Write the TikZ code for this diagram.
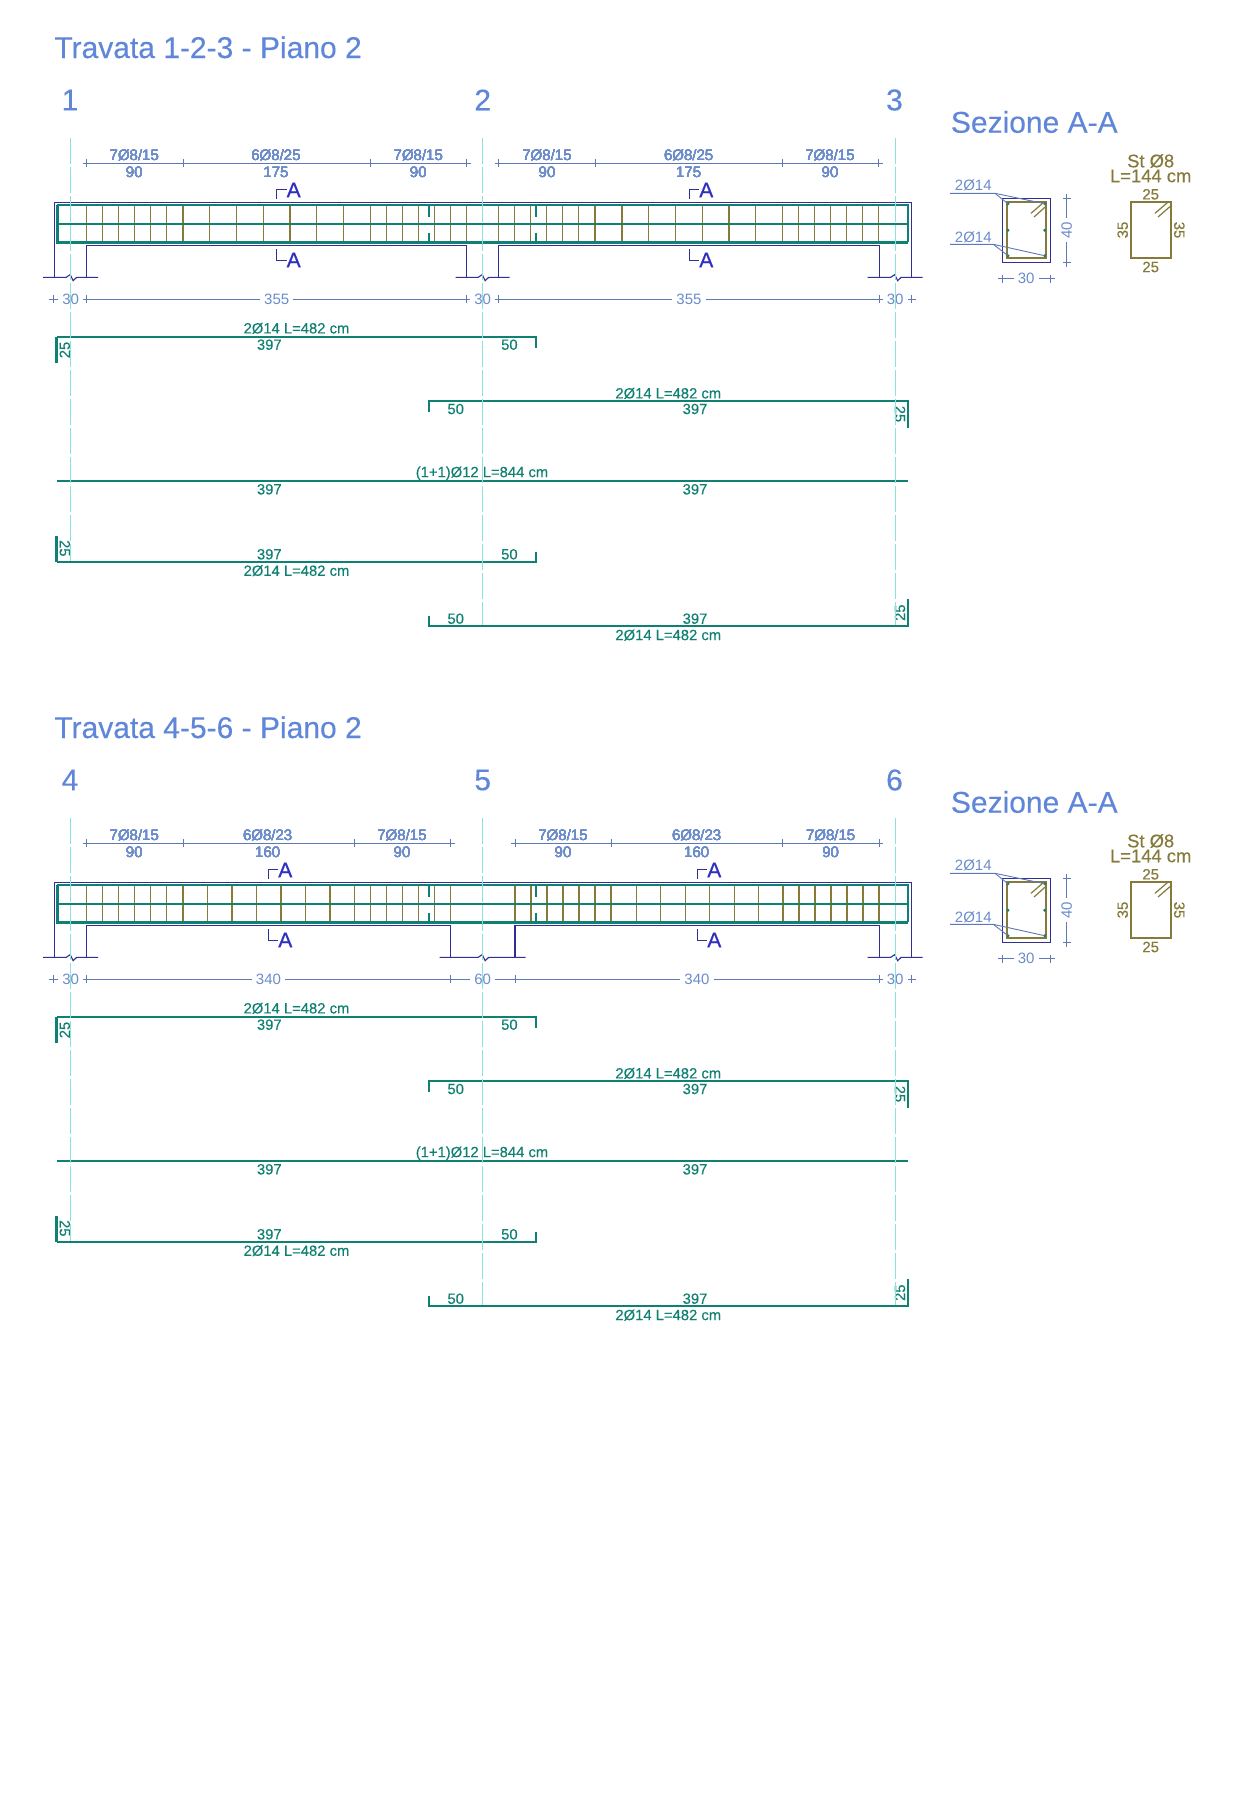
\documentclass[tikz,border=0pt]{standalone}
\usepackage{fontspec}
\setmainfont{Liberation Sans}
\newfontfamily\heavyfont[FakeBold=0.3]{Liberation Sans}
\newfontfamily\markfont[FakeBold=0.8]{Liberation Sans}
\usetikzlibrary{calc}
\definecolor{titleblue}{HTML}{5F86D8}
\definecolor{dimblue}{HTML}{6C8CCB}
\definecolor{linkblue}{HTML}{5E78B8}
\definecolor{concblue}{HTML}{2F2F96}
\definecolor{markblue}{HTML}{3030C0}
\definecolor{axiscyan}{HTML}{88E4DA}
\definecolor{bargreen}{HTML}{0F8072}
\definecolor{stirolive}{HTML}{857A3A}
\tikzset{
  concrete/.style={draw=concblue, line width=0.55pt},
  rebar/.style={draw=bargreen, line width=0.95pt},
  stirrup/.style={draw=stirolive, line width=0.6pt},
  dimline/.style={draw=linkblue, line width=0.45pt},
  axisline/.style={draw=axiscyan, line width=0.45pt, dash pattern=on 13pt off 1.5pt},
  titletxt/.style={font=\heavyfont\fontsize{15}{16}\selectfont, text=titleblue, inner sep=0pt},
  dimtxt/.style={font=\fontsize{7.5}{8}\selectfont, text=dimblue, inner sep=0pt},
  gaptxt/.style={dimtxt, fill=white, inner xsep=2pt, inner ysep=1pt},
  bartxt/.style={font=\heavyfont\fontsize{7.4}{8}\selectfont, text=bargreen, inner sep=0pt},
  stirtxt/.style={font=\heavyfont\fontsize{7.5}{8}\selectfont, text=stirolive, inner sep=0pt},
  marktxt/.style={font=\markfont\fontsize{10.5}{11}\selectfont, text=markblue, inner sep=0pt}
}
% tick of a dimension line
\newcommand{\htick}[2]{\draw[dimline] (#1,#2-4) -- (#1,#2+4);}
\newcommand{\vtick}[2]{\draw[dimline] (#1-4,#2) -- (#1+4,#2);}
% wall line with its break mark
\newcommand{\breakline}[2]{
  \draw[concrete] (#1-#2,277.3) -- (#1-4.5,277.3) -- (#1-0.5,274.6) -- (#1+2.5,280.7) -- (#1+6,277.3) -- (#1+#2,277.3);
}
% n+1 stirrups
\newcommand{\stirrupset}[3]{
  \foreach \sk in {0,...,#3}
    \draw[stirrup] ({#1+#2*\sk},205.3) -- ({#1+#2*\sk},242.3);
}
% beam outline and its bars
\newcommand{\beamfront}[2]{
  \draw[concrete] (54.3,277.3) -- (54.3,202.3) -- (911.7,202.3) -- (911.7,277.3);
  \draw[concrete] (86.7,277.3) -- (86.7,245.7) -- (#1,245.7) -- (#1,277.3);
  \draw[concrete] (#2,277.3) -- (#2,245.7) -- (879.3,245.7) -- (879.3,277.3);
  \breakline{70.7}{27.5}
  \breakline{895.2}{27.5}
  \draw[rebar, line width=1.15pt] (57.3,205.3) -- (908.3,205.3) -- (908.3,242.3);
  \draw[rebar, line width=1pt] (57.3,223.7) -- (908.3,223.7);
  \draw[rebar, line width=1.6pt] (57.3,205.3) -- (57.3,242.3) -- (908.3,242.3);
  \foreach \tx in {429,535.8} {
    \draw[rebar] (\tx,206) -- (\tx,216.7);
    \draw[rebar] (\tx,232.7) -- (\tx,242);
  }
}
% section marks
\newcommand{\cutmark}[2]{
  \draw[concrete, line width=0.5pt] (#1,199.3) -- (#1,189.3) -- (#1+10,189.3);
  \draw[concrete, line width=0.5pt] (#1,249.3) -- (#1,260) -- (#1+10,260);
  \node[marktxt] (#2t) at (#1+17,190) {A};
  \node[marktxt] (#2b) at (#1+17,260) {A};
}
% the five bars under each beam
\newcommand{\barschedule}{
  \draw[rebar, line width=1.5pt] (56.9,336.7) -- (56.9,363.3);
  \draw[rebar] (56.9,336.7) -- (535.9,336.7) -- (535.9,347.7);
  \node[bartxt] (b1n) at (296.5,328.3) {2Ø14 L=482 cm};
  \node[bartxt] (b1a) at (269.3,344.7) {397};
  \node[bartxt] (b1b) at (509.4,344.7) {50};
  \node[bartxt, rotate=90] (b1c) at (64.8,350) {25};
  \draw[rebar] (428.8,411.7) -- (428.8,400.7) -- (908.3,400.7) -- (908.3,427.7);
  \node[bartxt] (b2n) at (668.3,393.3) {2Ø14 L=482 cm};
  \node[bartxt] (b2a) at (695,409) {397};
  \node[bartxt] (b2b) at (455.7,409) {50};
  \node[bartxt, rotate=-90] (b2c) at (900,414) {25};
  \draw[rebar] (57.2,481) -- (907.7,481);
  \node[bartxt] (b3n) at (482,473.3) {(1+1)Ø12 L=844 cm};
  \node[bartxt] (b3a) at (269.3,489.3) {397};
  \node[bartxt] (b3b) at (695,489.3) {397};
  \draw[rebar, line width=1.5pt] (56.9,535.7) -- (56.9,561.7);
  \draw[rebar] (56.9,561.7) -- (535.9,561.7) -- (535.9,551.7);
  \node[bartxt] (b4n) at (296.5,570.7) {2Ø14 L=482 cm};
  \node[bartxt] (b4a) at (269.3,554.3) {397};
  \node[bartxt] (b4b) at (509.4,554.3) {50};
  \node[bartxt, rotate=-90] (b4c) at (64.8,548.3) {25};
  \draw[rebar] (428.8,615.7) -- (428.8,626) -- (908.3,626) -- (908.3,599.3);
  \node[bartxt] (b5n) at (668.3,635) {2Ø14 L=482 cm};
  \node[bartxt] (b5a) at (695,618.7) {397};
  \node[bartxt] (b5b) at (455.7,618.7) {50};
  \node[bartxt, rotate=90] (b5c) at (900,612.7) {25};
}
% section A-A and its stirrup
\newcommand{\sectionpanel}{
  \node[titletxt, anchor=base west] (sectitle) at (950.5,132.7) {Sezione A-A};
  \draw[concrete] (1002.7,198.3) rectangle (1050.7,262.3);
  \draw[stirrup, line width=0.9pt] (1006.7,201.7) rectangle (1046.3,258.3);
  \draw[stirrup, line width=0.6pt] (1031,213.3) -- (1043.3,202.7);
  \draw[stirrup, line width=0.6pt] (1034,217) -- (1046.3,206);
  \foreach \ry in {203.7,230.3,255.7}
    \foreach \rx in {1008,1044.7}
      \fill[bargreen] (\rx,\ry) circle (1.6);
  \draw[dimline] (950,193.3) -- (995,193.3) -- (1008,203.7);
  \draw[dimline] (995,193.3) -- (1044.7,203.7);
  \draw[dimline] (950,244.3) -- (993.3,244.3) -- (1008,255.7);
  \draw[dimline] (993.3,244.3) -- (1044.7,255.7);
  \node[dimtxt] (top14) at (973.3,185) {2Ø14};
  \node[dimtxt] (low14) at (973.3,237.7) {2Ø14};
  \draw[dimline] (1066.7,193.5) -- (1066.7,267);
  \vtick{1066.7}{198.3}
  \vtick{1066.7}{262.3}
  \node[gaptxt, rotate=90] (sec40) at (1066.7,230) {40};
  \draw[dimline] (998.3,278.7) -- (1055,278.7);
  \htick{1002.7}{278.7}
  \htick{1050.7}{278.7}
  \node[gaptxt] (sec30) at (1026.2,278.7) {30};
  \node[stirtxt, font=\heavyfont\fontsize{9.2}{10}\selectfont] (stname) at (1150.7,161) {St Ø8};
  \node[stirtxt, font=\heavyfont\fontsize{9.2}{10}\selectfont] (stlen) at (1150.7,176) {L=144 cm};
  \draw[stirrup, line width=0.9pt] (1130.7,201.7) rectangle (1171,258);
  \draw[stirrup, line width=0.6pt] (1155,213.3) -- (1167.3,202.7);
  \draw[stirrup, line width=0.6pt] (1158,217) -- (1170.7,206);
  \node[stirtxt] (sttop) at (1150.7,194.3) {25};
  \node[stirtxt] (stlow) at (1150.7,267) {25};
  \node[stirtxt, rotate=90] (stleft) at (1122.7,230) {35};
  \node[stirtxt, rotate=-90] (stright) at (1179.3,230) {35};
}
% the three column axes
\newcommand{\columnaxes}[3]{
  \draw[axisline] (70.7,138) -- (70.7,561);
  \draw[axisline] (482.7,138) -- (482.7,625);
  \draw[axisline] (895.2,138) -- (895.2,625);
  \node[titletxt] (ax1) at (70,100) {#1};
  \node[titletxt] (ax2) at (482.7,100) {#2};
  \node[titletxt] (ax3) at (894.5,100) {#3};
}

\begin{document}
\begin{tikzpicture}[x=0.5pt,y=-0.5pt]
\useasboundingbox (0,0) rectangle (1241,1800);

% Travata 1-2-3
\begin{scope}[name prefix=p-]
\node[titletxt, anchor=base west] (title) at (54,58) {Travata 1-2-3 - Piano 2};
\stirrupset{86.7}{16}{6}
\stirrupset{183}{26.75}{7}
\stirrupset{370.3}{16}{6}
\stirrupset{498.7}{16}{6}
\stirrupset{595.2}{26.75}{7}
\stirrupset{782.6}{16}{6}
\beamfront{466.7}{498.7}
\breakline{482.7}{27}
\cutmark{276.7}{ma}
\cutmark{689.3}{mb}
\draw[dimline] (82.7,163.3) -- (471,163.3);
\draw[dimline] (494.5,163.3) -- (883,163.3);
\foreach \tx in {86.7,183,370.3,466.7,498.7,595.2,782.6,878.5}
  \htick{\tx}{163.3}
\foreach \lx/\la/\lb [count=\n] in {134.3/7Ø8\slash15/90,276/6Ø8\slash25/175,418.3/7Ø8\slash15/90,547/7Ø8\slash15/90,688.6/6Ø8\slash25/175,830/7Ø8\slash15/90} {
  \node[dimtxt] (st\n) at (\lx,155) {\la};
  \node[dimtxt] (len\n) at (\lx,172.3) {\lb};
}
\draw[dimline] (49,299.3) -- (916,299.3);
\foreach \tx in {53.3,86.7,466.7,498.7,879.3,911.7}
  \htick{\tx}{299.3}
\foreach \lx/\la [count=\n] in {70.7/30,276.7/355,482.7/30,689/355,895.2/30}
  \node[gaptxt] (sp\n) at (\lx,299.3) {\la};
\barschedule
\sectionpanel
\columnaxes{1}{2}{3}
\end{scope}

% Travata 4-5-6
\begin{scope}[name prefix=q-, shift={(0,680)}]
\node[titletxt, anchor=base west] (title) at (54,58) {Travata 4-5-6 - Piano 2};
\stirrupset{86.7}{16}{6}
\stirrupset{183}{24.5}{7}
\stirrupset{354.3}{16}{6}
\stirrupset{515}{16}{6}
\stirrupset{611.7}{24.5}{7}
\stirrupset{782.9}{16}{6}
\beamfront{450.7}{515}
\breakline{482.7}{43}
\cutmark{268.3}{ma}
\cutmark{697.3}{mb}
\draw[dimline] (82.7,163.3) -- (455,163.3);
\draw[dimline] (510.5,163.3) -- (883,163.3);
\foreach \tx in {86.7,183,354.3,450.7,515,611.7,782.7,879}
  \htick{\tx}{163.3}
\foreach \lx/\la/\lb [count=\n] in {134.3/7Ø8\slash15/90,267.7/6Ø8\slash23/160,402/7Ø8\slash15/90,563/7Ø8\slash15/90,696.7/6Ø8\slash23/160,830.7/7Ø8\slash15/90} {
  \node[dimtxt] (st\n) at (\lx,155) {\la};
  \node[dimtxt] (len\n) at (\lx,172.3) {\lb};
}
\draw[dimline] (49,299.3) -- (916,299.3);
\foreach \tx in {53.3,86.7,450.7,515,879.3,911.7}
  \htick{\tx}{299.3}
\foreach \lx/\la [count=\n] in {70.7/30,268.5/340,482.7/60,697/340,895.2/30}
  \node[gaptxt] (sp\n) at (\lx,299.3) {\la};
\barschedule
\sectionpanel
\columnaxes{4}{5}{6}
\end{scope}
\end{tikzpicture}
\end{document}
